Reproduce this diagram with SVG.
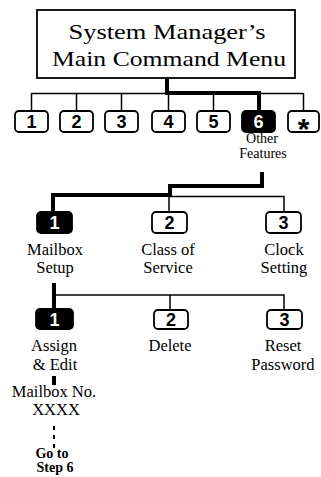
<svg xmlns="http://www.w3.org/2000/svg" width="321" height="477" viewBox="0 0 321 477">
<style>
.bg{fill:#fff}
.title{fill:#fff;stroke:#000;stroke-width:1.8}
.key{fill:#fff;stroke:#000;stroke-width:1.8}
.keyb{fill:#000;stroke:#000;stroke-width:1.8}
.d{font-family:"Liberation Sans",Arial,sans-serif;font-weight:bold;font-size:18px;text-anchor:middle;fill:#000}
.dw{font-family:"Liberation Sans",Arial,sans-serif;font-weight:bold;font-size:18px;text-anchor:middle;fill:#fff}
.t{font-family:"Liberation Serif","Times New Roman",serif;font-size:22px;text-anchor:middle;fill:#000}
.l{font-family:"Liberation Serif","Times New Roman",serif;font-size:16.5px;text-anchor:middle;fill:#000}
.s{font-family:"Liberation Serif","Times New Roman",serif;font-size:14px;text-anchor:middle;fill:#000}
.g{font-family:"Liberation Serif","Times New Roman",serif;font-size:14px;font-weight:bold;text-anchor:middle;fill:#000}
.thick{fill:none;stroke:#000;stroke-width:4;stroke-linejoin:miter}
.thin{fill:none;stroke:#000;stroke-width:1.5}
.dot{fill:none;stroke:#000;stroke-width:2;stroke-dasharray:4 5}
</style>
<rect class="bg" x="0" y="0" width="321" height="477"/>
<g id="connectors">
<path class="thin" d="M31.5,93.5 H303.5 M31.5,93 V111 M76.5,93 V111 M121.5,93 V111 M168.5,93 V111 M213.5,93 V111 M303.5,93 V111"/>
<path class="thick" d="M167,78 V93 H259 V111"/>
<path class="thick" d="M262,172 V186 H170 V195 H53 V212"/>
<path class="thin" d="M170,196.5 H284 V212 M169,196 V212"/>
<path class="thick" d="M54,283 V309"/>
<path class="thin" d="M54,295 H284 V310 M170,295 V310"/>
<path class="thick" d="M54,376 V385"/>
<path class="dot" d="M54,426 V451"/>
</g>
<g id="main-menu">
<rect class="title" x="37" y="10" width="258" height="68"/>
<text class="t" x="167" y="39" textLength="197" lengthAdjust="spacingAndGlyphs">System Manager’s</text>
<text class="t" x="169" y="66" textLength="234" lengthAdjust="spacingAndGlyphs">Main Command Menu</text>
</g>
<g id="key-1"><rect class="key" x="15" y="111" width="33" height="21" rx="4"/><text class="d" x="31.5" y="128">1</text></g>
<g id="key-2"><rect class="key" x="60" y="111" width="33" height="21" rx="4"/><text class="d" x="76.5" y="128">2</text></g>
<g id="key-3"><rect class="key" x="105" y="111" width="33" height="21" rx="4"/><text class="d" x="121.5" y="128">3</text></g>
<g id="key-4"><rect class="key" x="152" y="111" width="33" height="21" rx="4"/><text class="d" x="168.5" y="128">4</text></g>
<g id="key-5"><rect class="key" x="197" y="111" width="33" height="21" rx="4"/><text class="d" x="213.5" y="128">5</text></g>
<g id="key-6"><rect class="keyb" x="242" y="111" width="33" height="21" rx="4"/><text class="dw" x="258.5" y="128">6</text>
<text class="s" x="262" y="143">Other</text><text class="s" x="263" y="158">Features</text></g>
<g id="key-star"><rect class="key" x="288" y="111" width="31" height="21" rx="4"/><text class="d" x="303.5" y="139" style="font-size:30px">*</text></g>
<g id="mailbox-setup"><rect class="keyb" x="37" y="212" width="35" height="21" rx="4"/><text class="dw" x="54.5" y="229">1</text>
<text class="l" x="55" y="254.5">Mailbox</text><text class="l" x="55" y="273">Setup</text></g>
<g id="class-of-service"><rect class="key" x="152" y="212" width="35" height="21" rx="4"/><text class="d" x="169.5" y="229">2</text>
<text class="l" x="168" y="254.5">Class of</text><text class="l" x="168" y="273">Service</text></g>
<g id="clock-setting"><rect class="key" x="266" y="212" width="35" height="21" rx="4"/><text class="d" x="283.5" y="229">3</text>
<text class="l" x="284" y="254.5">Clock</text><text class="l" x="284" y="273">Setting</text></g>
<g id="assign-edit"><rect class="keyb" x="36" y="309" width="37" height="20" rx="4"/><text class="dw" x="54.5" y="326">1</text>
<text class="l" x="54" y="351">Assign</text><text class="l" x="55" y="370">&amp; Edit</text></g>
<g id="delete"><rect class="key" x="154" y="310" width="34" height="19" rx="4"/><text class="d" x="171" y="326">2</text>
<text class="l" x="170" y="351">Delete</text></g>
<g id="reset-password"><rect class="key" x="267" y="310" width="35" height="19" rx="4"/><text class="d" x="284.5" y="326">3</text>
<text class="l" x="283" y="351">Reset</text><text class="l" x="283" y="370">Password</text></g>
<g id="mailbox-no"><text class="l" x="54" y="397">Mailbox No.</text><text class="l" x="56" y="415">XXXX</text></g>
<g id="go-to-step-6"><text class="g" x="52" y="458">Go to</text><text class="g" x="55" y="472">Step 6</text></g>
</svg>
